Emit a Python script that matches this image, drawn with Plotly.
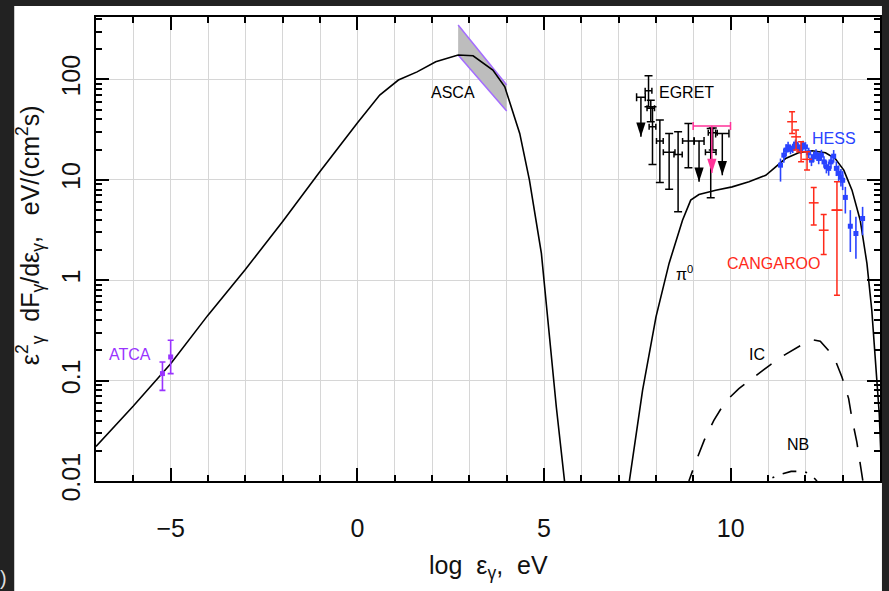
import numpy as np
import plotly.graph_objects as go

# ---------------- data ----------------
# synchrotron curve (log eps, flux)
sync_x = [-7, -6, -5, -4, -3, -2, -1, 0, 0.6, 1.1, 1.6, 2.1, 2.7, 3.1, 3.63, 3.95,
          4.35, 4.61, 4.93, 5.15, 5.33, 5.55, 5.62]
sync_y = [0.0221, 0.0558, 0.147, 0.449, 1.28, 3.84, 12.1, 36.9, 69.8, 98.6, 119, 150,
          175, 172, 124, 84.5, 29.0, 9.93, 1.85, 0.252, 0.0546, 0.0100, 0.006]

# pi0 decay curve
pi0_x = [7.2, 7.29, 7.64, 8.0, 8.35, 8.71, 8.82, 8.93, 9.15, 9.6, 10.04, 10.49, 10.94,
         11.2, 11.47, 11.82, 12.18, 12.54, 12.8, 13.03, 13.25, 13.47, 13.65, 13.78,
         13.89, 13.98, 14.04]
pi0_y = [0.006, 0.0101, 0.080, 0.431, 1.47, 3.96, 5.0, 6.28, 7.14, 7.89, 8.51, 9.55,
         11.1, 13.5, 16.3, 18.6, 19.5, 18.6, 16.3, 12.5, 7.89, 3.96, 1.47, 0.502,
         0.148, 0.0469, 0.0129]

# inverse Compton curve
ic_x = [8.8, 8.886, 9.08, 9.29, 9.55, 9.85, 10.22, 10.62, 11.07, 11.47, 11.96, 12.2,
        12.4, 12.76, 12.98, 13.16, 13.25, 13.38, 13.5, 13.55]
ic_y = [0.0085, 0.0101, 0.0160, 0.0254, 0.0402, 0.0612, 0.0832, 0.1086, 0.1445, 0.1828,
        0.234, 0.255, 0.2466, 0.1746, 0.1086, 0.0662, 0.0418, 0.0244, 0.0128, 0.0095]

# non-thermal bremsstrahlung curve
nb_x = [10.7, 10.94, 11.31, 11.62, 11.96, 12.15, 12.3, 12.45]
nb_y = [0.0075, 0.0101, 0.01156, 0.01247, 0.01247, 0.01164, 0.0101, 0.0075]

# ATCA radio points
atca_x = [-5.22, -5.0]
atca_y = [0.1175, 0.172]
atca_hi = [0.153, 0.252]
atca_lo = [0.080, 0.1175]

# ASCA band (x range, upper and lower edges)
asca_x = [2.7, 4.0]
asca_hi = [349, 88]
asca_lo = [175, 48.4]

# EGRET detections
egret_x = [7.80, 7.86, 7.906, 8.103, 8.352, 8.592, 8.868, 9.466, 9.52]
egret_xerr = [0.09, 0.10, 0.09, 0.09, 0.156, 0.11, 0.156, 0.142, 0.12]
egret_y = [77.1, 51.5, 33.8, 24.3, 18.8, 17.9, 24.3, 18.8, 29.4]
egret_hi = [108.9, 62, 53.5, 39.4, 29.0, 30.1, 36.5, 32.5, 32.8]
egret_lo = [53.5, 38, 14.2, 9.42, 8.08, 4.8, 13.2, 6.62, 19.8]

# EGRET upper limits
egret_ul_x = [7.596, 9.153, 9.776]
egret_ul_xerr = [0.116, 0.134, 0.178]
egret_ul_y = [66.3, 24.3, 29.0]
egret_ul_end = [26.8, 9.55, 11.1]

# magenta upper limit
mag_ul_x = [9.496]
mag_ul_xerr = [0.5]
mag_ul_y = [34.3]
mag_ul_end = [11.7]

# HESS
hess_x = [11.335, 11.424, 11.485, 11.538, 11.603, 11.664, 11.736, 11.806, 11.878, 11.939,
          12.003, 12.091, 12.164, 12.225, 12.286, 12.358, 12.43, 12.5, 12.564, 12.625,
          12.687, 12.759, 12.831, 12.893, 12.954, 13.0, 13.072, 13.205, 13.355, 13.534]
hess_y = [14.0, 17.6, 19.8, 21.3, 20.1, 20.6, 22.7, 21.3, 20.1, 22.2, 21.3, 18.6, 15.7,
          17.0, 18.0, 16.3, 17.6, 15.1, 13.5, 13.0, 15.1, 17.2, 13.0, 11.6, 10.6, 9.9,
          6.68, 3.45, 2.92, 4.12]
hess_hi = [16.3, 20.5, 22.6, 24.0, 22.4, 22.9, 25.2, 23.6, 22.3, 24.5, 23.7, 20.9, 17.9,
           19.1, 20.2, 18.5, 19.9, 17.2, 15.6, 15.2, 17.5, 19.8, 15.3, 13.9, 12.8, 12.2,
           8.51, 4.99, 4.28, 5.38]
hess_lo = [9.6, 14.8, 17.2, 18.9, 18.0, 18.5, 20.4, 19.2, 18.1, 20.0, 19.1, 16.5, 13.7,
           15.0, 16.0, 14.3, 15.5, 13.2, 11.6, 11.0, 12.9, 14.8, 10.9, 9.6, 8.6, 7.9,
           4.62, 1.91, 1.64, 2.81]

# CANGAROO
cang_x = [11.645, 11.752, 11.886, 12.046, 12.225, 12.492, 12.847]
cang_xerr = [0, 0, 0, 0, 0, 0, 0.15]
cang_y = [37.9, 26.8, 19.0, 16.0, 5.9, 3.15, 4.99]
cang_hi = [47.6, 31.3, 23.9, 19.0, 8.4, 4.52, 9.55]
cang_lo = [29.0, 19.8, 15.1, 12.5, 3.54, 1.80, 0.708]

# labels: (text, x, y, colour)
labels = [
    ("ATCA", -6.09, 0.18, "#9933ff"),
    ("ASCA", 2.55, 73.6, "#000000"),
    ("HESS", 12.76, 25.9, "#2a44ff"),
    ("CANGAROO", 11.16, 1.47, "#ff2a1a"),
    ("π<sup>0</sup>", 8.75, 1.17, "#000000"),
    ("IC", 10.71, 0.183, "#000000"),
    ("NB", 11.81, 0.023, "#000000"),
]
egret_label = ("EGRET", 8.02, 74.3)

y_ticks = [0.01, 0.1, 1, 10, 100]
y_ticktext = ["0.01", "0.1", "1", "10", "100"]
x_ticks = [-5, 0, 5, 10]
x_ticktext = ["\u22125", "0", "5", "10"]

# ---------------- figure ----------------
FONT = "Liberation Sans, Arial, sans-serif"
fig = go.Figure()

# ASCA band
band_x = asca_x + asca_x[::-1] + [asca_x[0]]
band_y = asca_hi + asca_lo[::-1] + [asca_hi[0]]
fig.add_trace(go.Scatter(x=band_x, y=band_y, fill="toself", fillcolor="#bdbdbd",
                         mode="lines", line=dict(width=0, color="#bdbdbd"),
                         hoverinfo="skip"))
for edge in (asca_hi, asca_lo):
    fig.add_trace(go.Scatter(x=asca_x, y=edge, mode="lines",
                             line=dict(color="#a46cff", width=1.5)))

# model curves
fig.add_trace(go.Scatter(x=sync_x, y=sync_y, mode="lines",
                         line=dict(color="black", width=1.6)))
fig.add_trace(go.Scatter(x=pi0_x, y=pi0_y, mode="lines",
                         line=dict(color="black", width=1.6)))
fig.add_trace(go.Scatter(x=ic_x, y=ic_y, mode="lines",
                         line=dict(color="black", width=1.6, dash="19px,15px")))
fig.add_trace(go.Scatter(x=nb_x, y=nb_y, mode="lines",
                         line=dict(color="black", width=1.6, dash="14px,9px,2px,9px")))

# ATCA
fig.add_trace(go.Scatter(
    x=atca_x, y=atca_y, mode="markers",
    marker=dict(symbol="square", size=5, color="#9933ff"),
    error_y=dict(type="data", symmetric=False,
                 array=[h - y for h, y in zip(atca_hi, atca_y)],
                 arrayminus=[y - l for l, y in zip(atca_lo, atca_y)],
                 color="#9933ff", thickness=1.6, width=3)))

# EGRET detections
fig.add_trace(go.Scatter(
    x=egret_x, y=egret_y, mode="markers",
    marker=dict(size=1, color="black"),
    error_y=dict(type="data", symmetric=False,
                 array=[h - y for h, y in zip(egret_hi, egret_y)],
                 arrayminus=[y - l for l, y in zip(egret_lo, egret_y)],
                 color="black", thickness=1.5, width=4),
    error_x=dict(type="data", array=egret_xerr, color="black", thickness=1.5, width=3)))


def add_ul(xs, xerr, ys, ends, color):
    fig.add_trace(go.Scatter(
        x=xs, y=ys, mode="markers", marker=dict(size=1, color=color),
        error_x=dict(type="data", array=xerr, color=color, thickness=1.5, width=4)))
    lx, ly = [], []
    for x, y0, y1 in zip(xs, ys, ends):
        lx += [x, x, None]
        ly += [y0, y1, None]
    fig.add_trace(go.Scatter(x=lx, y=ly, mode="lines",
                             line=dict(color=color, width=1.5)))
    fig.add_trace(go.Scatter(x=xs, y=ends, mode="markers",
                             marker=dict(symbol="arrow", angle=180, size=15,
                                         color=color, line=dict(width=0))))


add_ul(egret_ul_x, egret_ul_xerr, egret_ul_y, egret_ul_end, "black")
add_ul(mag_ul_x, mag_ul_xerr, mag_ul_y, mag_ul_end, "#ff3399")

# HESS
fig.add_trace(go.Scatter(
    x=hess_x, y=hess_y, mode="markers",
    marker=dict(symbol="square", size=5, color="#2a44ff"),
    error_y=dict(type="data", symmetric=False,
                 array=[h - y for h, y in zip(hess_hi, hess_y)],
                 arrayminus=[y - l for l, y in zip(hess_lo, hess_y)],
                 color="#2a44ff", thickness=1.6, width=0)))

# CANGAROO
fig.add_trace(go.Scatter(
    x=cang_x, y=cang_y, mode="markers",
    marker=dict(symbol="line-ew-open", size=7, color="#ff2a1a",
                line=dict(width=1.5, color="#ff2a1a")),
    error_y=dict(type="data", symmetric=False,
                 array=[h - y for h, y in zip(cang_hi, cang_y)],
                 arrayminus=[y - l for l, y in zip(cang_lo, cang_y)],
                 color="#ff2a1a", thickness=1.5, width=3),
    error_x=dict(type="data", array=cang_xerr, color="#ff2a1a", thickness=1.5, width=0)))

annotations = []
for txt, x, y, col in labels:
    annotations.append(dict(x=x, y=np.log10(y), xref="x", yref="y", text=txt,
                            showarrow=False, font=dict(family=FONT, size=16, color=col),
                            xanchor="center", yanchor="middle"))
annotations.append(dict(x=egret_label[1], y=np.log10(egret_label[2]), xref="x", yref="y",
                        text=egret_label[0], showarrow=False, xanchor="left",
                        yanchor="middle", font=dict(family=FONT, size=16, color="black")))
# axis titles
annotations.append(dict(
    x=-0.084, y=0.53, xref="paper", yref="paper", textangle=-90,
    text="ε<sup>2</sup><sub>γ</sub>&nbsp;&nbsp;dF<sub>γ</sub>/dε<sub>γ</sub>,&nbsp;&nbsp;&nbsp;eV/(cm<sup>2</sup>s)",
    showarrow=False, xanchor="center", yanchor="middle",
    font=dict(family=FONT, size=25, color="#111")))
annotations.append(dict(
    x=0.5, y=-0.185, xref="paper", yref="paper",
    text="log&nbsp;&nbsp;ε<sub>γ</sub>,&nbsp;&nbsp;eV",
    showarrow=False, xanchor="center", yanchor="middle",
    font=dict(family=FONT, size=25, color="#111")))
annotations.append(dict(x=-0.1247, y=-0.209, xref="paper", yref="paper", text=")",
                        showarrow=False, xanchor="left", yanchor="middle",
                        font=dict(family=FONT, size=20, color="#dddddd")))

y_minor = [m * 10.0 ** e for e in range(-2, 3) for m in range(2, 10) if m * 10.0 ** e < 420]

axis_common = dict(showline=True, linecolor="black", linewidth=1.6, mirror="allticks",
                   ticks="inside", tickcolor="black", tickwidth=1.5,
                   showgrid=True, gridcolor="#d6d6d6", gridwidth=1.3, zeroline=False,
                   tickfont=dict(family=FONT, size=25, color="#111"))

fig.update_layout(
    width=889, height=591, autosize=False,
    margin=dict(l=96, r=7, t=17, b=110),
    paper_bgcolor="#222222", plot_bgcolor="white",
    showlegend=False,
    annotations=annotations,
    shapes=[dict(type="rect", xref="paper", yref="paper", x0=-0.1043, x1=1.0025,
                 y0=-0.35, y1=1.0237, fillcolor="white", line=dict(width=0),
                 layer="below")],
    xaxis=dict(range=[-7, 14], tickmode="array", tickvals=x_ticks, ticktext=x_ticktext,
               ticklen=13, ticklabelstandoff=24,
               minor=dict(dtick=1, tick0=0, ticks="inside", ticklen=6, tickcolor="black",
                          tickwidth=1.5, showgrid=True, gridcolor="#d6d6d6", gridwidth=1.3),
               **axis_common),
    yaxis=dict(type="log", range=[-2, 2.622], tickmode="array", tickvals=y_ticks,
               ticktext=y_ticktext, tickangle=-90, ticklen=13, ticklabelstandoff=4,
               minor=dict(tickmode="array", tickvals=y_minor, ticks="inside", ticklen=6,
                          tickcolor="black", tickwidth=1.5, showgrid=False),
               **axis_common),
)

fig.write_html("out.html")
